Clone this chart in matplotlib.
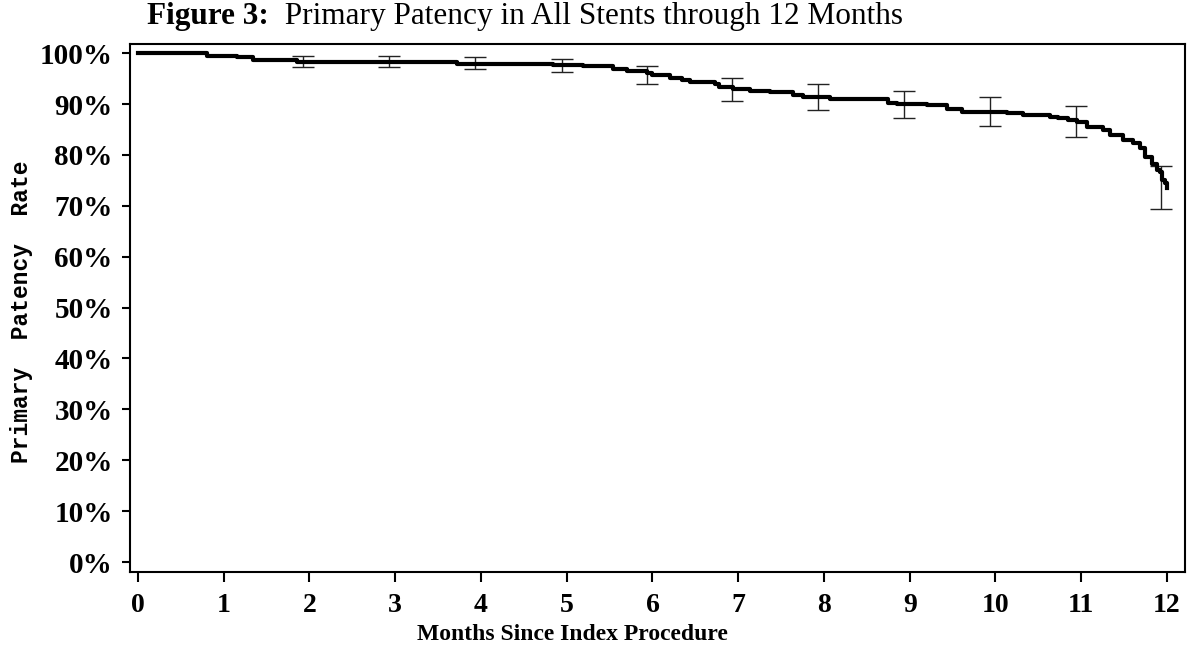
import matplotlib.pyplot as plt

# Kaplan-Meier step curve (months, percent patent)
months = [0.0, 0.80, 1.15, 1.34, 1.85, 3.72, 4.84, 5.19, 5.54, 5.70, 5.94, 6.00,
          6.20, 6.34, 6.44, 6.73, 6.77, 6.94, 7.14, 7.37, 7.64, 7.76, 8.07, 8.75,
          8.85, 9.20, 9.43, 9.61, 10.13, 10.32, 10.64, 10.73, 10.85, 10.95, 11.07,
          11.25, 11.34, 11.49, 11.60, 11.68, 11.74, 11.83, 11.88, 11.92, 11.94,
          11.98, 12.0]
patency = [100.0, 99.5, 99.3, 98.6, 98.2, 97.9, 97.7, 97.4, 96.9, 96.5, 96.1, 95.8,
           95.2, 94.7, 94.4, 93.9, 93.4, 92.9, 92.6, 92.3, 91.7, 91.4, 90.9, 90.3,
           90.1, 89.8, 89.1, 88.5, 88.2, 87.8, 87.5, 87.2, 86.8, 86.5, 85.5,
           84.9, 83.9, 82.9, 82.3, 81.3, 79.6, 78.3, 77.0, 76.7, 75.0,
           74.5, 73.5]

# confidence intervals
ci_months = [1.93, 2.93, 3.93, 4.94, 5.94, 6.93, 7.93, 8.93, 9.94, 10.94, 11.93]
ci_upper = [99.4, 99.4, 99.15, 98.9, 97.5, 95.1, 94.0, 92.6, 91.4, 89.6, 77.9]
ci_lower = [97.2, 97.2, 96.8, 96.2, 94.0, 90.6, 88.9, 87.3, 85.7, 83.6, 69.4]

xticks = list(range(0, 13))
yticks = list(range(0, 101, 10))

serif = 'Liberation Serif'
mono = 'Liberation Mono'

fig = plt.figure(figsize=(11.88, 6.54), dpi=100)
ax = fig.add_axes([130/1188, 1 - 572/654, (1185 - 130)/1188, (572 - 44)/654])

ci_mid = [(u + l) / 2 for u, l in zip(ci_upper, ci_lower)]
ci_err = [(u - l) / 2 for u, l in zip(ci_upper, ci_lower)]
ax.errorbar(ci_months, ci_mid, yerr=ci_err, fmt='none', ecolor='#222222',
            elinewidth=1.0, capsize=8, capthick=1.0, zorder=2)
ax.plot(months, patency, drawstyle='steps-post', color='black', lw=3.0, zorder=3)

ax.set_xlim(-0.093, 12.21)
ax.set_ylim(-1.96, 101.8)
ax.set_xticks(xticks)
ax.set_xticklabels([str(t) for t in xticks], fontfamily=serif, fontweight='bold', fontsize=20)
ax.set_yticks(yticks)
ax.set_yticklabels([f'{t}%' for t in yticks], fontfamily=serif, fontweight='bold', fontsize=21)
ax.tick_params(axis='x', length=7, width=1.5, pad=8)
ax.tick_params(axis='y', length=5.5, width=1.5, pad=7)
for s in ax.spines.values():
    s.set_linewidth(1.5)

ax.set_xlabel('Months Since Index Procedure', fontfamily=serif, fontweight='bold',
              fontsize=17)
ax.xaxis.set_label_coords((572 - 130)/1055, (572 - 634)/528)
ax.xaxis.label.set_va('center')
ax.set_ylabel('Primary  Patency  Rate', fontfamily=mono, fontweight='bold',
              fontsize=16.5)
ax.yaxis.set_label_coords((22 - 130)/1055, (572 - 312)/528)
ax.yaxis.label.set_va('center')

t1 = fig.text(147/1188, 1 - 24/654, 'Figure 3:', fontfamily=serif, fontweight='bold',
              fontsize=22.5, va='baseline')
ax.annotate('  Primary Patency in All Stents through 12 Months', xy=(1, 0), xycoords=t1,
            va='bottom', fontfamily=serif, fontsize=22.5)

fig.savefig('out.png', dpi=100)
